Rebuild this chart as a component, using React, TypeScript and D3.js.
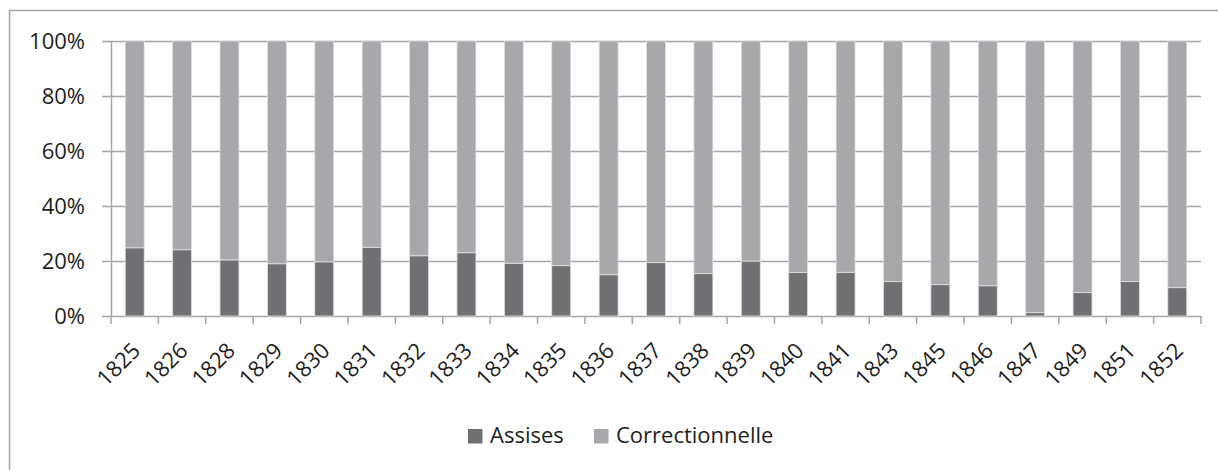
import React from "react";
import * as d3 from "d3";

const years = ["1825","1826","1828","1829","1830","1831","1832","1833","1834","1835","1836","1837","1838","1839","1840","1841","1843","1845","1846","1847","1849","1851","1852"];
const assises = [24.8, 24.1, 20.4, 19.0, 19.7, 25.0, 21.9, 23.0, 19.2, 18.3, 15.0, 19.4, 15.4, 20.0, 15.8, 15.9, 12.5, 11.4, 11.0, 1.2, 8.5, 12.5, 10.3];
const correctionnelle = [75.2, 75.9, 79.6, 81.0, 80.3, 75.0, 78.1, 77.0, 80.8, 81.7, 85.0, 80.6, 84.6, 80.0, 84.2, 84.1, 87.5, 88.6, 89.0, 98.8, 91.5, 87.5, 89.7];
const seriesNames = ["Assises", "Correctionnelle"];
const seriesColors = ["#6f7074", "#a7a8ac"];
const yTicks = [0, 0.2, 0.4, 0.6, 0.8, 1];

const W = 1218, H = 470;
const left = 111, right = 1201, top = 41, bottom = 316;
const FONT = "'Open Sans', sans-serif";

export default function App() {
  const rows = years.map((y, i) => ({ year: y, Assises: assises[i], Correctionnelle: correctionnelle[i] }));
  const stack = d3.stack<any>().keys(seriesNames).offset(d3.stackOffsetExpand);
  const stacked = stack(rows);
  const x = d3.scaleBand().domain(years).range([left, right]).paddingInner(0.6).paddingOuter(0.3);
  const y = d3.scaleLinear().domain([0, 1]).range([bottom, top]);
  const step = x.step();
  const boundaries = d3.range(years.length + 1).map((i) => left + i * step);
  const fmt = d3.format(".0%");

  return (
    <div style={{ position: "absolute", left: 0, top: 0 }}>
      <svg width={W} height={H} style={{ display: "block", fontFamily: FONT }}>
        <rect x={0} y={0} width={W} height={H} fill="#fff" />
        <rect x={9.5} y={10.5} width={1240} height={480} fill="none" stroke="#a3a3a3" strokeWidth={1.5} />
        {yTicks.map((t) => (
          <g key={t}>
            <line x1={102} x2={right} y1={Math.round(y(t)) + 0.5} y2={Math.round(y(t)) + 0.5} stroke="#a6a6a6" strokeWidth={1.5} />
            <text x={85} y={y(t)} dy="0.36em" textAnchor="end" fontSize={22} fill="#1e1e1e">{fmt(t)}</text>
          </g>
        ))}
        <line x1={left + 0.5} x2={left + 0.5} y1={top} y2={bottom} stroke="#a6a6a6" strokeWidth={1.5} />
        {boundaries.map((b, i) => (
          <line key={i} x1={b} x2={b} y1={bottom} y2={bottom + 8} stroke="#a6a6a6" strokeWidth={1.5} />
        ))}
        {stacked.map((s, si) => (
          <g key={s.key}>
            {s.map((d, i) => (
              <rect key={i} x={x(years[i])} y={y(d[1])} width={x.bandwidth()} height={y(d[0]) - y(d[1])}
                fill={seriesColors[si]} stroke="#e2e2e2" strokeWidth={0.8} />
            ))}
          </g>
        ))}
        {years.map((yr) => {
          const ax = (x(yr) as number) + x.bandwidth() / 2 + 7;
          const ay = bottom + 36;
          return (
            <text key={yr} x={ax} y={ay} transform={`rotate(-45 ${ax} ${ay})`} textAnchor="end" fontSize={22} fill="#1e1e1e">{yr}</text>
          );
        })}
        {seriesNames.map((n, i) => {
          const lx = i === 0 ? 468 : 594;
          return (
            <g key={n}>
              <rect x={lx} y={429} width={14.5} height={14.5} fill={seriesColors[i]} />
              <text x={lx + 22} y={443} fontSize={22} fill="#1e1e1e">{n}</text>
            </g>
          );
        })}
      </svg>
    </div>
  );
}
